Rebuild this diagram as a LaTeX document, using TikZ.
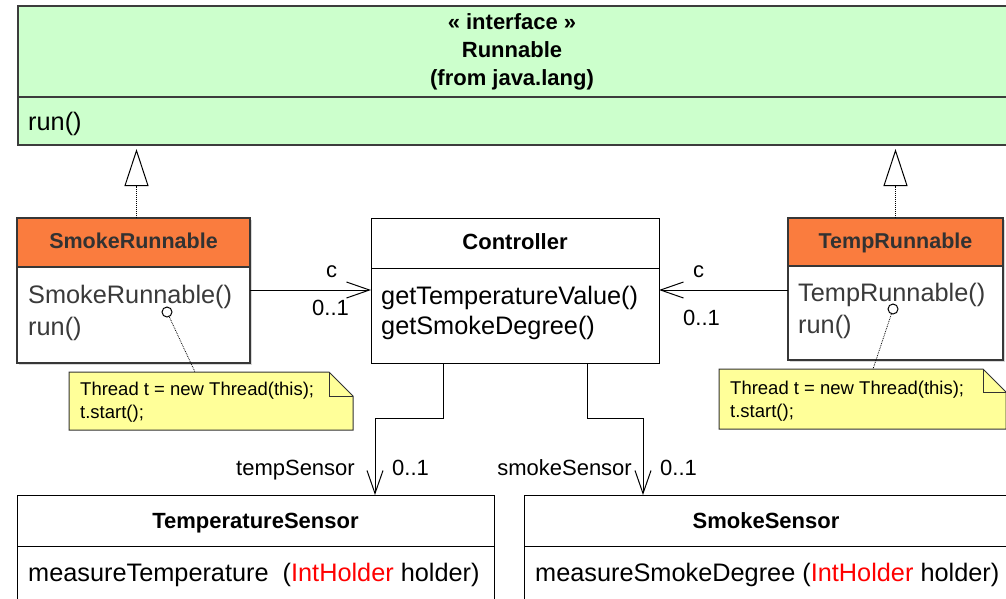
\documentclass[tikz,border=0pt]{standalone}
\usepackage{fontspec}
\setmainfont{Liberation Sans}
\usetikzlibrary{arrows.meta,calc,shadows}
\definecolor{ifgreen}{RGB}{204,255,204}
\definecolor{ifline}{RGB}{60,60,60}
\definecolor{runorange}{RGB}{250,124,62}
\definecolor{rline}{RGB}{55,55,55}
\definecolor{rtext}{RGB}{50,50,50}
\definecolor{rbody}{RGB}{58,58,58}
\definecolor{noteyellow}{RGB}{255,255,153}
\definecolor{noteline}{RGB}{50,50,50}
\definecolor{holderred}{RGB}{255,0,0}
\begin{document}
\begin{tikzpicture}[x=1pt,y=-1pt,
  ifbox/.style={draw=ifline, line width=1.3pt, fill=ifgreen, anchor=north west, inner sep=0pt, outer sep=0pt},
  cbox/.style={draw=black, line width=1pt, fill=white, anchor=north west, inner sep=0pt, outer sep=0pt},
  rbox/.style={draw=rline, line width=2pt, fill=white, anchor=north west, inner sep=0pt, outer sep=0pt},
  rhead/.style={rbox, fill=runorange},
  rshadow/.style={drop shadow={shadow xshift=1.5pt, shadow yshift=-1.5pt, fill=black!30}},
  notebox/.style={anchor=north west, inner sep=0pt, outer sep=0pt},
  notefill/.style={draw=noteline, line width=1pt, fill=noteyellow},
  notefold/.style={draw=noteline, line width=1pt},
  ttl/.style={font=\fontsize{22}{26}\selectfont\bfseries, inner sep=0pt, anchor=base},
  mth/.style={font=\fontsize{25.3}{30}\selectfont, inner sep=0pt, anchor=base west},
  rttl/.style={ttl, font=\fontsize{21.5}{26}\selectfont\bfseries, text=rtext},
  rmth/.style={mth, text=rbody},
  ntxt/.style={font=\fontsize{18.5}{22}\selectfont, inner sep=0pt, anchor=base west},
  lbl/.style={font=\fontsize{22}{26}\selectfont, inner sep=0pt},
  assoc/.style={draw=black, line width=1pt, -{Straight Barb[length=23pt,width=16pt,line width=1pt]}},
  realize/.style={draw=black, line width=1pt, densely dotted, -{Triangle[length=37pt,width=24pt,fill=white,line width=1pt]}, shorten >=4pt},
  pinline/.style={draw=black, line width=0.8pt, densely dotted},
  pin/.style={circle, draw=black, line width=1pt, fill=white, inner sep=0pt, minimum size=10pt},
]
\useasboundingbox (0,0) rectangle (1006,598);
\clip (0,0) rectangle (1006,598);

% ---------- Interface Runnable ----------
\node[ifbox, minimum width=995pt, minimum height=139pt] (iface) at (18,6) {};
\node[ifbox, minimum width=995pt, minimum height=91pt] (ifacehd) at (18,6) {};
\node[ttl] (ift1) at (512,29) {« interface »};
\node[ttl] (ift2) at (512,57) {Runnable};
\node[ttl] (ift3) at (512,85) {(from java.lang)};
\node[mth] (ifm1) at (28,130) {run()};

% ---------- SmokeRunnable ----------
\node[rbox, rshadow, minimum width=233pt, minimum height=145pt] (smoke) at (17,218) {};
\node[rhead, minimum width=233pt, minimum height=49pt] (smokehd) at (17,218) {};
\node[rttl] (smoket) at (133.5,248) {SmokeRunnable};
\node[rmth] (smokem1) at (28,303) {SmokeRunnable()};
\node[rmth] (smokem2) at (28,335) {run()};

% ---------- TempRunnable ----------
\node[rbox, rshadow, minimum width=215pt, minimum height=142pt] (temp) at (788,218) {};
\node[rhead, minimum width=215pt, minimum height=48pt] (temphd) at (788,218) {};
\node[rttl] (tempt) at (895.5,248) {TempRunnable};
\node[rmth] (tempm1) at (798,301) {TempRunnable()};
\node[rmth] (tempm2) at (798,333) {run()};

% ---------- Controller ----------
\node[cbox, minimum width=288pt, minimum height=145pt] (ctrl) at (371,218) {};
\node[cbox, minimum width=288pt, minimum height=50pt] (ctrlhd) at (371,218) {};
\node[ttl] (ctrlt) at (515,249) {Controller};
\node[mth] (ctrlm1) at (381,304) {getTemperatureValue()};
\node[mth] (ctrlm2) at (381,334) {getSmokeDegree()};

% ---------- Sensors ----------
\node[cbox, minimum width=477pt, minimum height=130pt] (tsens) at (17,495) {};
\node[cbox, minimum width=477pt, minimum height=51pt] (tsenshd) at (17,495) {};
\node[ttl] (tsenst) at (255.5,528) {TemperatureSensor};
\node[mth] (tsensm) at (28,581) {measureTemperature\ \ (\textcolor{holderred}{IntHolder} holder)};

\node[cbox, minimum width=490pt, minimum height=130pt] (ssens) at (524,495) {};
\node[cbox, minimum width=490pt, minimum height=51pt] (ssenshd) at (524,495) {};
\node[ttl] (ssenst) at (766,528) {SmokeSensor};
\node[mth] (ssensm) at (535,581) {measureSmokeDegree (\textcolor{holderred}{IntHolder} holder)};

% ---------- Notes ----------
\node[notebox, minimum width=284pt, minimum height=58pt] (snote) at (69,372) {};
\draw[notefill] (snote.north west) -- ([xshift=-24pt]snote.north east) -- ([yshift=-24pt]snote.north east) -- (snote.south east) -- (snote.south west) -- cycle;
\draw[notefold] ([xshift=-24pt]snote.north east) -- ([xshift=-24pt,yshift=-24pt]snote.north east) -- ([yshift=-24pt]snote.north east);
\node[ntxt] (snt1) at (80,395) {Thread t = new Thread(this);};
\node[ntxt] (snt2) at (80,418) {t.start();};

\node[notebox, minimum width=287pt, minimum height=60pt] (tnote) at (719,369) {};
\draw[notefill] (tnote.north west) -- ([xshift=-23pt]tnote.north east) -- ([yshift=-23pt]tnote.north east) -- (tnote.south east) -- (tnote.south west) -- cycle;
\draw[notefold] ([xshift=-23pt]tnote.north east) -- ([xshift=-23pt,yshift=-23pt]tnote.north east) -- ([yshift=-23pt]tnote.north east);
\node[ntxt] (tnt1) at (730,394) {Thread t = new Thread(this);};
\node[ntxt] (tnt2) at (730,417) {t.start();};

% ---------- note anchors ----------
\node[pin] (spin) at (167,312) {};
\node[pin] (tpin) at (893,309) {};
\draw[pinline] (spin) -- ($(snote.north west)+(126,0)$);
\draw[pinline] (tpin) -- ($(tnote.north west)+(154,0)$);

% ---------- realizations ----------
\draw[realize] ([xshift=3pt]smoke.north) -- ([xshift=3pt]smoke.north |- iface.south);
\draw[realize] (temp.north) -- (temp.north |- iface.south);

% ---------- associations ----------
\draw[assoc] ([yshift=-72pt]smoke.north east) -- ([yshift=-72pt]ctrl.north west);
\node[lbl, anchor=base west] (sc) at (326,277) {c};
\node[lbl, anchor=base west] (sm) at (312,315) {0..1};

\draw[assoc] ([yshift=-72pt]temp.north west) -- ([yshift=-72pt]ctrl.north east);
\node[lbl, anchor=base west] (tc) at (693,277) {c};
\node[lbl, anchor=base west] (tm) at (683,325) {0..1};

\draw[assoc] ([xshift=72pt]ctrl.south west) -- ++(0,55) -| ([xshift=358pt]tsens.north west);
\node[lbl, anchor=base east] (tsr) at (355,475) {tempSensor};
\node[lbl, anchor=base west] (tsm) at (392,475) {0..1};

\draw[assoc] ([xshift=216pt]ctrl.south west) -- ++(0,55) -| ([xshift=119pt]ssens.north west);
\node[lbl, anchor=base east] (ssr) at (632,475) {smokeSensor};
\node[lbl, anchor=base west] (ssm) at (660,475) {0..1};
\end{tikzpicture}
\end{document}
